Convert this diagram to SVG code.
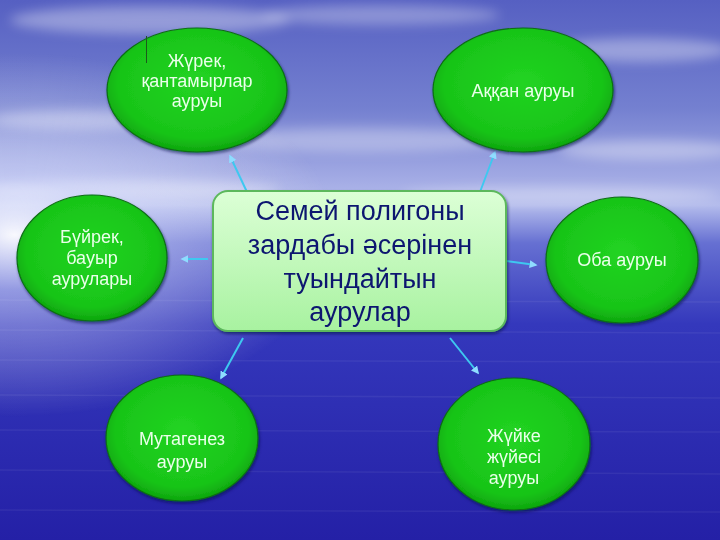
<svg xmlns="http://www.w3.org/2000/svg" width="720" height="540" viewBox="0 0 720 540">
<style>
.el{fill:url(#gEl);stroke:#0b6e12;stroke-width:1.2}
.lt{font-family:"Liberation Sans",Arial,sans-serif;font-size:18px;fill:#eaffea;text-anchor:middle}
.ct{font-family:"Liberation Sans",Arial,sans-serif;font-size:27px;fill:#0c1670;text-anchor:middle}
.cn{stroke:#3ec8f0;stroke-width:2;fill:none;marker-end:url(#ah)}
</style>
<defs>
<linearGradient id="bg" x1="0" y1="0" x2="0" y2="1">
<stop offset="0" stop-color="#5660c2"/>
<stop offset="0.2" stop-color="#7480d0"/>
<stop offset="0.33" stop-color="#a2aae4"/>
<stop offset="0.38" stop-color="#b4bcec"/>
<stop offset="0.45" stop-color="#6670d2"/>
<stop offset="0.6" stop-color="#3438bc"/>
<stop offset="1" stop-color="#2420a6"/>
</linearGradient>
<radialGradient id="glow" cx="0.02" cy="0.44" r="0.45" gradientTransform="scale(1,0.75) translate(0,0.14)">
<stop offset="0" stop-color="#ffffff" stop-opacity="0.95"/>
<stop offset="0.3" stop-color="#dfe4ff" stop-opacity="0.5"/>
<stop offset="1" stop-color="#ffffff" stop-opacity="0"/>
</radialGradient>
<radialGradient id="gEl" cx="0.5" cy="0.45" r="0.55">
<stop offset="0" stop-color="#22d422"/>
<stop offset="0.8" stop-color="#18c418"/>
<stop offset="1" stop-color="#0ea50e"/>
</radialGradient>
<linearGradient id="gBox" x1="0" y1="0" x2="0" y2="1">
<stop offset="0" stop-color="#dcffd6"/>
<stop offset="1" stop-color="#a8f2a0"/>
</linearGradient>
<filter id="blur" x="-20%" y="-50%" width="140%" height="200%"><feGaussianBlur stdDeviation="6"/></filter>
<filter id="sh" x="-10%" y="-10%" width="120%" height="130%"><feDropShadow dx="1" dy="2" stdDeviation="1.5" flood-color="#001040" flood-opacity="0.6"/></filter>
<marker id="ah" viewBox="0 0 10 10" refX="8" refY="5" markerWidth="4" markerHeight="4" orient="auto-start-reverse">
<path d="M0,0 L10,5 L0,10 z" fill="#8fdcff"/>
</marker>
</defs>
<g id="background">
<rect width="720" height="540" fill="url(#bg)"/>
<g fill="#ffffff" filter="url(#blur)">
<ellipse cx="150" cy="20" rx="140" ry="14" opacity="0.35"/>
<ellipse cx="380" cy="15" rx="120" ry="10" opacity="0.3"/>
<ellipse cx="640" cy="50" rx="90" ry="12" opacity="0.35"/>
<ellipse cx="80" cy="120" rx="90" ry="10" opacity="0.35"/>
<ellipse cx="360" cy="140" rx="150" ry="12" opacity="0.3"/>
<ellipse cx="650" cy="150" rx="90" ry="10" opacity="0.35"/>
<ellipse cx="560" cy="195" rx="160" ry="8" opacity="0.3"/>
<ellipse cx="120" cy="190" rx="160" ry="10" opacity="0.35"/>
</g>
<rect width="720" height="540" fill="url(#glow)"/>
<g stroke="#ffffff" stroke-opacity="0.06" stroke-width="1.5">
<line x1="0" y1="300" x2="720" y2="302"/>
<line x1="0" y1="330" x2="720" y2="333"/>
<line x1="0" y1="360" x2="720" y2="362"/>
<line x1="0" y1="395" x2="720" y2="398"/>
<line x1="0" y1="430" x2="720" y2="432"/>
<line x1="0" y1="470" x2="720" y2="474"/>
<line x1="0" y1="510" x2="720" y2="512"/>
</g>
</g>
<g id="connectors">
<line class="cn" x1="247" y1="192" x2="230" y2="156"/>
<line class="cn" x1="480" y1="192" x2="495" y2="152"/>
<line class="cn" x1="208" y1="259" x2="182" y2="259"/>
<line class="cn" x1="507" y1="261" x2="536" y2="265"/>
<line class="cn" x1="243" y1="338" x2="221" y2="378"/>
<line class="cn" x1="450" y1="338" x2="478" y2="373"/>
</g>
<g id="center" filter="url(#sh)">
<rect x="213" y="191" width="293" height="140" rx="15" fill="url(#gBox)" stroke="#5cb85c" stroke-width="2"/>
<text class="ct" x="360" y="220">Семей полигоны</text>
<text class="ct" x="360" y="254">зардабы әсерінен</text>
<text class="ct" x="360" y="288">туындайтын</text>
<text class="ct" x="360" y="321">аурулар</text>
</g>
<g id="n1" filter="url(#sh)">
<ellipse class="el" cx="197" cy="90" rx="90" ry="62"/>
<line x1="146.5" y1="36" x2="146.5" y2="63" stroke="#1a5a1a" stroke-width="1"/>
<text class="lt" x="197" y="67">Жүрек,</text>
<text class="lt" x="197" y="87">қантамырлар</text>
<text class="lt" x="197" y="107">ауруы</text>
</g>
<g id="n2" filter="url(#sh)">
<ellipse class="el" cx="523" cy="90" rx="90" ry="62"/>
<text class="lt" x="523" y="97">Аққан ауруы</text>
</g>
<g id="n3" filter="url(#sh)">
<ellipse class="el" cx="92" cy="258" rx="75" ry="63"/>
<text class="lt" x="92" y="243">Бүйрек,</text>
<text class="lt" x="92" y="264">бауыр</text>
<text class="lt" x="92" y="285">аурулары</text>
</g>
<g id="n4" filter="url(#sh)">
<ellipse class="el" cx="622" cy="260" rx="76" ry="63"/>
<text class="lt" x="622" y="266">Оба ауруы</text>
</g>
<g id="n5" filter="url(#sh)">
<ellipse class="el" cx="182" cy="438" rx="76" ry="63"/>
<text class="lt" x="182" y="445">Мутагенез</text>
<text class="lt" x="182" y="468">ауруы</text>
</g>
<g id="n6" filter="url(#sh)">
<ellipse class="el" cx="514" cy="444" rx="76" ry="66"/>
<text class="lt" x="514" y="442">Жүйке</text>
<text class="lt" x="514" y="463">жүйесі</text>
<text class="lt" x="514" y="484">ауруы</text>
</g>
</svg>
